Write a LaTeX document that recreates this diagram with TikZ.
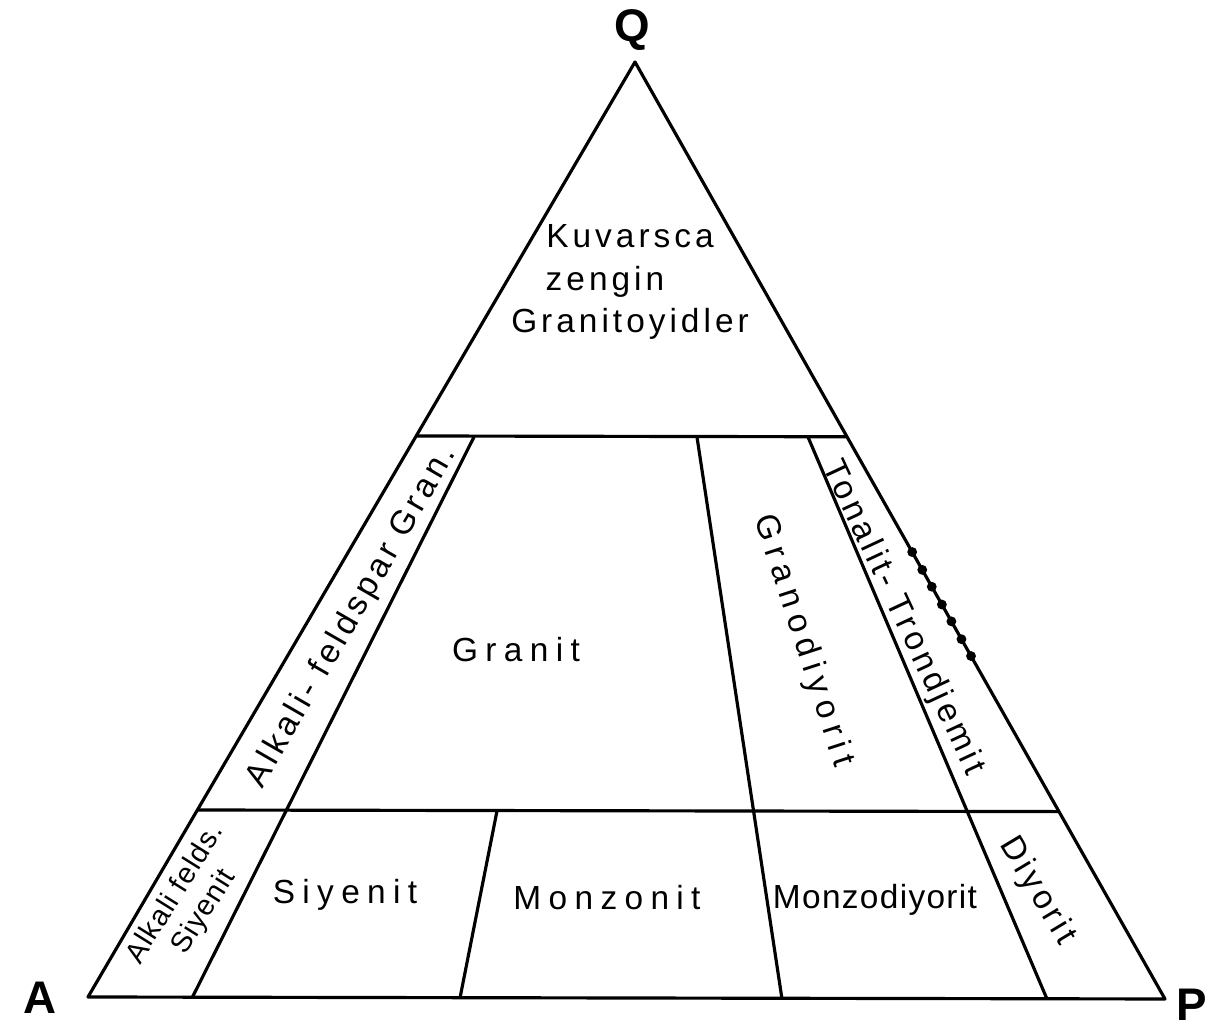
\documentclass[tikz,border=0pt]{standalone}
\usepackage{fontspec}
\newfontfamily\lblfont{Liberation Sans}[LetterSpace=12]
\newfontfamily\widefont{Liberation Sans}[LetterSpace=22]
\newfontfamily\narrowfont{Liberation Sans}[LetterSpace=4]
\newfontfamily\cornerfont{Liberation Sans}
\usetikzlibrary{calc}

\begin{document}
\begin{tikzpicture}[x=0.01cm,y=-0.01cm,
  edge/.style={line width=0.9pt,line join=round},
  field/.style={font=\lblfont\fontsize{9.5}{12}\selectfont,inner sep=0pt,align=center},
  widefield/.style={field,font=\widefont\fontsize{9.5}{12}\selectfont},
  narrowfield/.style={field,font=\narrowfont\fontsize{9.5}{12}\selectfont},
  corner/.style={font=\cornerfont\bfseries\fontsize{13}{15}\selectfont,inner sep=0pt}]
\useasboundingbox (0,0) rectangle (1229,1028);

\coordinate (Q) at (635,62);
\coordinate (A) at (88,997);
\coordinate (P) at (1165,999);
% Q = 60 and Q = 20 lines
\coordinate (A6) at ($(A)!0.6!(Q)$);
\coordinate (P6) at ($(P)!0.6!(Q)$);
\coordinate (A2) at ($(A)!0.2!(Q)$);
\coordinate (P2) at ($(P)!0.2!(Q)$);
% field boundaries
\coordinate (B10) at (192,998);
\coordinate (T10) at (474,437);
\coordinate (B35) at (460,998);
\coordinate (T35) at (497,811);
\coordinate (B65) at (782,999);
\coordinate (T65) at (697,437);
\coordinate (B90) at (1047,999);
\coordinate (T90) at (808,437);

  \draw[edge] (A) -- (Q) -- (P) -- cycle;
  \draw[edge] (A6) -- (P6);
  \draw[edge] (A2) -- (P2);

  \draw[edge] (B10) -- (T10);
  \draw[edge] (B35) -- (T35);
  \draw[edge] (B65) -- (T65);
  \draw[edge] (B90) -- (T90);

  % dots on the Q-P side
  \foreach \s in {0.523,0.542,0.560,0.579,0.597,0.616,0.634}
    \fill ($(Q)!\s!(P)$) circle (1.4pt);

   \node[corner] (lQ) at (632,30) {Q};
   \node[corner] (lA) at (40,998) {A};
   \node[corner] (lP) at (1192,1005) {P};

   \node[field] (kuv) at (630,282) {Kuvarsca\\zengin\rule{0.5cm}{0pt}\\Granitoyidler};
   \node[widefield] (gra) at (516,650) {Granit};
   \node[field,rotate=60] (afg) at (352,617) {Alkali- feldspar Gran.};
   \node[widefield,rotate=-72] (grd) at (803,641) {Granodiyorit};
   \node[field,rotate=-65] (ton) at (903,618) {Tonalit- Trondjemit};
   \node[narrowfield,rotate=58,font=\narrowfont\fontsize{8.2}{9.6}\selectfont] (afs) at (190,903) {Alkali felds.\\Siyenit};
   \node[widefield] (sye) at (345,895) {Siyenit};
   \node[widefield] (mon) at (607,898) {Monzonit};
   \node[narrowfield] (mzd) at (875,900) {Monzodiyorit};
   \node[field,rotate=-59] (dio) at (1037,891) {Diyorit};
\end{tikzpicture}
\end{document}
